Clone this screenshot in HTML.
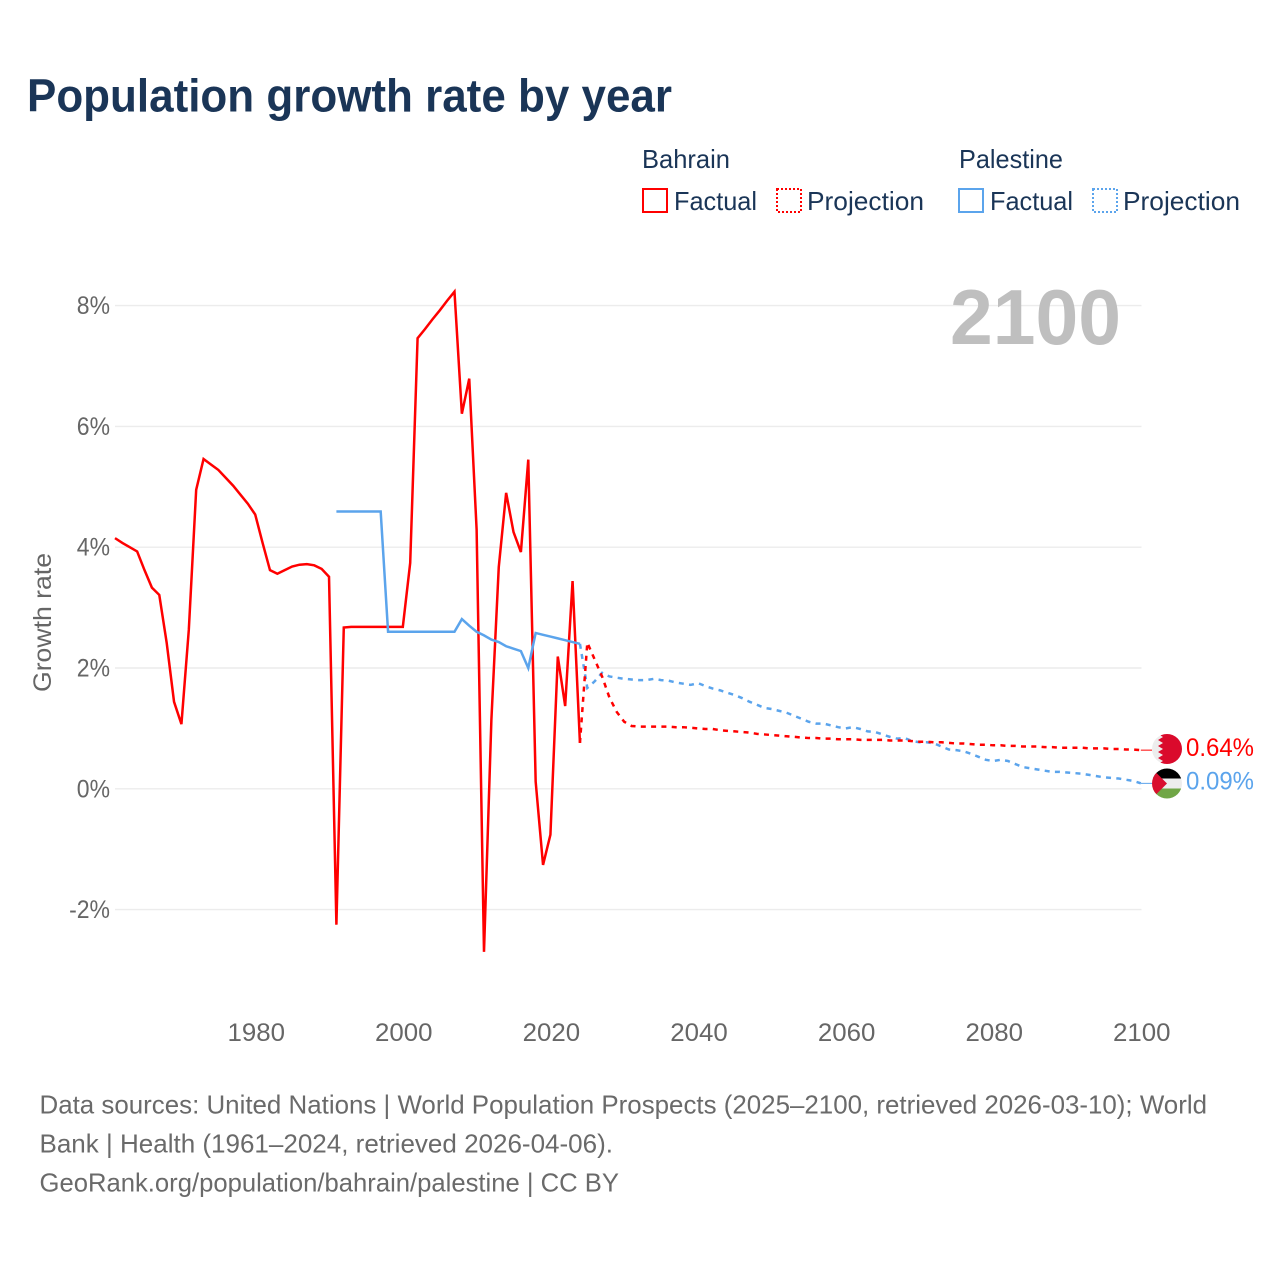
<!DOCTYPE html>
<html lang="en">
<head>
<meta charset="utf-8">
<title>Population growth rate by year</title>
<style>
html,body{margin:0;padding:0;background:#fff;}
svg{display:block;font-family:"Liberation Sans",sans-serif;}
</style>
</head>
<body>
<svg id="chart" xmlns="http://www.w3.org/2000/svg" width="1280" height="1280" viewBox="0 0 1280 1280">
  <rect x="0" y="0" width="1280" height="1280" fill="#fff"/>
  <text x="27" y="111.5" font-size="46" font-weight="bold" fill="#1a3557" textLength="645" lengthAdjust="spacingAndGlyphs">Population growth rate by year</text>

  <g font-size="26" fill="#1a3557">
    <text x="642" y="168" textLength="88" lengthAdjust="spacingAndGlyphs">Bahrain</text>
    <text x="959" y="168" textLength="104" lengthAdjust="spacingAndGlyphs">Palestine</text>
    <g>
      <rect x="643" y="189" width="24" height="23" fill="none" stroke="#ff0000" stroke-width="2"/>
      <text x="674" y="210" textLength="83" lengthAdjust="spacingAndGlyphs">Factual</text>
    </g>
    <g>
      <rect x="777" y="189" width="24" height="23" fill="none" stroke="#ff0000" stroke-width="2" stroke-dasharray="2 2"/>
      <text x="807" y="210" textLength="117" lengthAdjust="spacingAndGlyphs">Projection</text>
    </g>
    <g>
      <rect x="959" y="189" width="24" height="23" fill="none" stroke="#5ba4ec" stroke-width="2"/>
      <text x="990" y="210" textLength="83" lengthAdjust="spacingAndGlyphs">Factual</text>
    </g>
    <g>
      <rect x="1093" y="189" width="24" height="23" fill="none" stroke="#5ba4ec" stroke-width="2" stroke-dasharray="2 2"/>
      <text x="1123" y="210" textLength="117" lengthAdjust="spacingAndGlyphs">Projection</text>
    </g>
  </g>

  <g id="grid"></g>
  <g id="yticks"></g>
  <g id="xticks"></g>
  <text transform="translate(51,622.5) rotate(-90)" text-anchor="middle" font-size="25" fill="#666" textLength="139" lengthAdjust="spacingAndGlyphs">Growth rate</text>
  <text x="950" y="344" font-size="78" font-weight="bold" fill="#bfbfbf" textLength="171" lengthAdjust="spacingAndGlyphs">2100</text>

  <g id="series"></g>

  <defs>
    <clipPath id="clip-bh"><circle cx="1167" cy="749" r="15"/></clipPath>
    <clipPath id="clip-ps"><circle cx="1167" cy="783.5" r="15"/></clipPath>
  </defs>
  <g clip-path="url(#clip-bh)">
    <rect x="1152" y="734" width="30" height="30" fill="#ededed"/>
    <polygon fill="#da0a2c" points="1182,734 1158,734 1163,737 1158,740 1163,743 1158,746 1163,749 1158,752 1163,755 1158,758 1163,761 1158,764 1182,764"/>
  </g>
  <g clip-path="url(#clip-ps)">
    <rect x="1152" y="768.5" width="30" height="10" fill="#000"/>
    <rect x="1152" y="778.5" width="30" height="10" fill="#ededed"/>
    <rect x="1152" y="788.5" width="30" height="10" fill="#70a646"/>
    <polygon fill="#d90f2f" points="1152,768.5 1167,783.5 1152,798.5"/>
  </g>
  <g id="endlabels"></g>

  <g font-size="26" fill="#6a6a6a">
    <text x="39.5" y="1113.5" textLength="1167.5" lengthAdjust="spacingAndGlyphs">Data sources: United Nations | World Population Prospects (2025–2100, retrieved 2026-03-10); World</text>
    <text x="39.5" y="1152.5" textLength="573.5" lengthAdjust="spacingAndGlyphs">Bank | Health (1961–2024, retrieved 2026-04-06).</text>
    <text x="39.5" y="1191.5" textLength="579.5" lengthAdjust="spacingAndGlyphs">GeoRank.org/population/bahrain/palestine | CC BY</text>
  </g>
</svg>
<script>
const yTickValues = [8, 6, 4, 2, 0, -2];
const yTickLabels = ["8%", "6%", "4%", "2%", "0%", "-2%"];
const xTickValues = [1980, 2000, 2020, 2040, 2060, 2080, 2100];
const xTickLabels = ["1980", "2000", "2020", "2040", "2060", "2080", "2100"];

const bahrainFactualStart = 1961;
const bahrainFactual = [4.15,4.07,4.0,3.93,3.62,3.33,3.21,2.42,1.44,1.07,2.63,4.95,5.46,5.37,5.28,5.15,5.02,4.87,4.72,4.54,4.07,3.62,3.56,3.62,3.68,3.71,3.72,3.70,3.64,3.51,-2.25,2.67,2.68,2.68,2.68,2.68,2.68,2.68,2.68,2.68,3.74,7.46,7.61,7.77,7.92,8.08,8.23,6.21,6.79,4.29,-2.70,1.14,3.67,4.90,4.25,3.92,5.45,0.12,-1.26,-0.76,2.19,1.37,3.44,0.76];

const bahrainProjectionStart = 2024;
const bahrainProjection = [0.76,2.42,2.14,1.86,1.51,1.27,1.11,1.04,1.03,1.03,1.03,1.03,1.03,1.02,1.02,1.01,1.00,0.99,0.99,0.97,0.96,0.95,0.94,0.93,0.91,0.90,0.89,0.88,0.87,0.86,0.85,0.84,0.84,0.83,0.83,0.82,0.82,0.82,0.81,0.81,0.81,0.81,0.80,0.80,0.80,0.79,0.78,0.78,0.77,0.77,0.76,0.75,0.75,0.74,0.73,0.73,0.72,0.72,0.71,0.71,0.70,0.70,0.70,0.69,0.69,0.68,0.68,0.68,0.68,0.67,0.67,0.67,0.66,0.66,0.65,0.65,0.64];

const palestineFactualStart = 1991;
const palestineFactual = [4.59,4.59,4.59,4.59,4.59,4.59,4.59,2.60,2.60,2.60,2.60,2.60,2.60,2.60,2.60,2.60,2.60,2.81,2.70,2.60,2.54,2.47,2.43,2.36,2.32,2.28,2.00,2.58,2.55,2.52,2.49,2.46,2.43,2.40];

const palestineProjectionStart = 2024;
const palestineProjection = [2.40,1.67,1.78,1.92,1.86,1.84,1.82,1.81,1.80,1.80,1.82,1.80,1.79,1.76,1.74,1.72,1.75,1.70,1.66,1.63,1.59,1.55,1.50,1.44,1.39,1.34,1.32,1.29,1.26,1.21,1.16,1.11,1.08,1.08,1.05,1.02,1.00,1.02,0.99,0.95,0.94,0.90,0.86,0.83,0.84,0.79,0.77,0.77,0.75,0.70,0.65,0.64,0.62,0.58,0.53,0.48,0.46,0.48,0.46,0.41,0.36,0.34,0.32,0.30,0.28,0.28,0.27,0.26,0.25,0.23,0.21,0.19,0.18,0.17,0.15,0.13,0.09];

const endLabels = ["0.64%", "0.09%"];

const RED = "#ff0000";
const BLUE = "#5ba4ec";
const SVGNS = "http://www.w3.org/2000/svg";

function xScale(year) { return 115 + (year - 1961) * 7.38; }
function yScale(value) { return 788.8 - value * 60.4; }

function makeEl(tag, parentId) {
  const el = document.createElementNS(SVGNS, tag);
  document.getElementById(parentId).appendChild(el);
  return el;
}

yTickValues.forEach(function (v, i) {
  const line = makeEl("line", "grid");
  
  
  line.setAttribute("x1", 115);
  line.setAttribute("x2", 1141.5);
  line.setAttribute("y1", yScale(v));
  line.setAttribute("y2", yScale(v));
  line.setAttribute("stroke", "#ececec");
  line.setAttribute("stroke-width", "1.4");

  const label = makeEl("text", "yticks");
  
  
  label.setAttribute("x", 110);
  label.setAttribute("y", yScale(v) + 8.5);
  label.setAttribute("text-anchor", "end");
  label.setAttribute("font-size", "25");
  label.setAttribute("fill", "#666");
  label.textContent = yTickLabels[i];
  label.setAttribute("textLength", (label.getComputedTextLength() * 0.92).toFixed(1));
  label.setAttribute("lengthAdjust", "spacingAndGlyphs");
});

xTickValues.forEach(function (v, i) {
  const label = makeEl("text", "xticks");
  
  
  label.setAttribute("x", xScale(v) + 1);
  label.setAttribute("y", 1041);
  label.setAttribute("text-anchor", "middle");
  label.setAttribute("font-size", "25");
  label.setAttribute("fill", "#666");
  label.setAttribute("textLength", "57.5");
  label.setAttribute("lengthAdjust", "spacingAndGlyphs");
  label.textContent = xTickLabels[i];
});

function pathFrom(startYear, values) {
  return values.map(function (v, i) {
    return (i ? "L" : "M") + xScale(startYear + i).toFixed(2) + " " + yScale(v).toFixed(2);
  }).join(" ");
}

function drawSeries(name, startYear, values, color, dash) {
  const p = makeEl("path", "series");
  
  
  p.setAttribute("d", pathFrom(startYear, values));
  p.setAttribute("fill", "none");
  p.setAttribute("stroke", color);
  p.setAttribute("stroke-width", "2.5");
  p.setAttribute("stroke-linejoin", "miter");
  if (dash) { p.setAttribute("stroke-dasharray", dash); }
}

drawSeries("bahrain-factual-line", bahrainFactualStart, bahrainFactual, RED, null);
drawSeries("palestine-projection-line", palestineProjectionStart, palestineProjection, BLUE, "5 5.3");
drawSeries("bahrain-projection-line", bahrainProjectionStart, bahrainProjection, RED, "5 5.3");
drawSeries("palestine-factual-line", palestineFactualStart, palestineFactual, BLUE, null);

function drawEnd(name, values, color, text) {
  const last = values[values.length - 1];
  const y = yScale(last);
  const leader = makeEl("line", "endlabels");
  
  
  leader.setAttribute("x1", xScale(2100));
  leader.setAttribute("x2", 1152);
  leader.setAttribute("y1", y);
  leader.setAttribute("y2", y);
  leader.setAttribute("stroke", color);
  leader.setAttribute("stroke-width", "1");

  const label = makeEl("text", "endlabels");
  
  
  label.setAttribute("x", 1186);
  label.setAttribute("y", y + 6);
  label.setAttribute("font-size", "25");
  label.setAttribute("fill", color);
  label.setAttribute("textLength", "68");
  label.setAttribute("lengthAdjust", "spacingAndGlyphs");
  label.textContent = text;
}

drawEnd("bahrain-end", bahrainProjection, RED, endLabels[0]);
drawEnd("palestine-end", palestineProjection, BLUE, endLabels[1]);
</script>
</body>
</html>
